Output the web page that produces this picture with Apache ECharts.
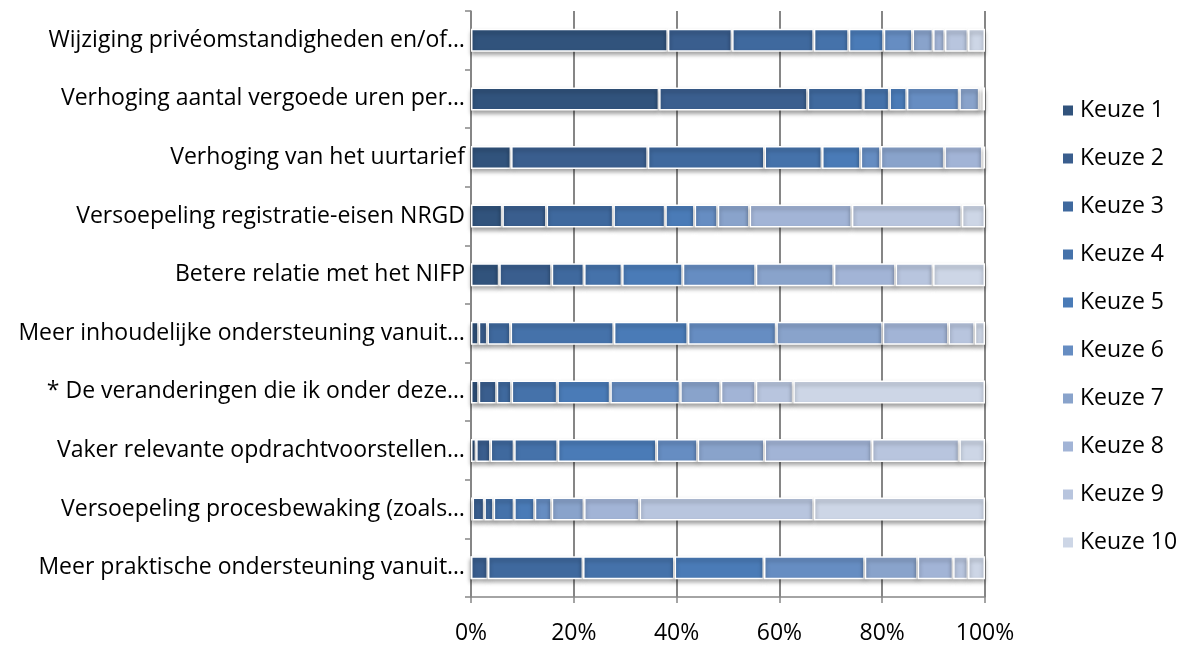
<!DOCTYPE html>
<html><head><meta charset="utf-8">
<script src="https://cdn.jsdelivr.net/npm/echarts@6/dist/echarts.min.js"></script>
<style>html,body{margin:0;padding:0;background:#fff}#c{width:1184px;height:646px}</style>
</head><body><div id="c"></div>
<script>
const categories = [
  "Wijziging privéomstandigheden en/of…",
  "Verhoging aantal vergoede uren per…",
  "Verhoging van het uurtarief",
  "Versoepeling registratie-eisen NRGD",
  "Betere relatie met het NIFP",
  "Meer inhoudelijke ondersteuning vanuit…",
  "* De veranderingen die ik onder deze…",
  "Vaker relevante opdrachtvoorstellen…",
  "Versoepeling procesbewaking (zoals…",
  "Meer praktische ondersteuning vanuit…"
];
const seriesNames = ["Keuze 1","Keuze 2","Keuze 3","Keuze 4","Keuze 5","Keuze 6","Keuze 7","Keuze 8","Keuze 9","Keuze 10"];
const keuze1  = [38.3, 36.6,  7.8,  6.1,  5.5,  1.5,  1.5,  1.0,  0.3,  0.0];
const keuze2  = [12.5, 28.9, 26.6,  8.6, 10.2,  1.7,  3.5,  2.8,  2.3,  3.3];
const keuze3  = [15.9, 10.8, 22.7, 13.0,  6.3,  4.5,  2.9,  4.6,  1.8, 18.5];
const keuze4  = [ 6.8,  5.1, 11.2, 10.1,  7.4, 20.1,  8.9,  8.5,  4.0, 17.8];
const keuze5  = [ 6.8,  3.4,  7.5,  5.7, 11.8, 14.4, 10.3, 19.2,  4.0, 17.4];
const keuze6  = [ 5.6, 10.2,  3.9,  4.5, 14.2, 17.2, 13.6,  8.0,  3.3, 19.6];
const keuze7  = [ 4.0,  3.9, 12.4,  6.2, 15.2, 20.7,  7.9, 13.0,  6.3, 10.3];
const keuze8  = [ 2.3,  0.4,  7.4, 19.9, 12.0, 12.8,  6.8, 20.9, 10.8,  6.9];
const keuze9  = [ 4.5,  0.3,  0.3, 21.4,  7.3,  5.1,  7.3, 17.0, 33.9,  2.9];
const keuze10 = [ 3.3,  0.4,  0.2,  4.5, 10.1,  2.0, 37.3,  5.0, 33.3,  3.3];
const xTicks = [0, 20, 40, 60, 80, 100];
const colors = ["#31537c","#3a5e8e","#3f699e","#4572aa","#4a7bb7","#668dc2","#89a3cb","#a2b4d6","#b8c5de","#cdd6e6"];

const allData = [keuze1,keuze2,keuze3,keuze4,keuze5,keuze6,keuze7,keuze8,keuze9,keuze10];
const font = "'Open Sans', sans-serif";
const chart = echarts.init(document.getElementById('c'), null, {renderer:'canvas'});
chart.setOption({
  animation:false,
  backgroundColor:'#fff',
  color: colors,
  grid:{left:471, right:199, top:11, bottom:49, containLabel:false},
  legend:{
    orient:'vertical', left:1056, top:94,
    itemWidth:12, itemHeight:12, itemGap:25,
    icon:'rect',
    textStyle:{fontSize:23, lineHeight:20, color:'#000', fontFamily:font, padding:[0,0,0,1]},
    data: seriesNames
  },
  xAxis:{
    type:'value', min:xTicks[0], max:xTicks[xTicks.length-1], interval:xTicks[1]-xTicks[0],
    axisLine:{show:true, lineStyle:{color:'#868686', width:1.5}},
    axisTick:{show:true, length:6, lineStyle:{color:'#868686', width:1.5}},
    splitLine:{show:true, lineStyle:{color:'#868686', width:2}},
    axisLabel:{formatter:'{value}%', fontSize:23, color:'#000', fontFamily:font, margin:25}
  },
  yAxis:{
    type:'category', data:categories, inverse:true,
    axisLine:{show:true, lineStyle:{color:'#868686', width:1.5}},
    axisTick:{show:true, length:6, alignWithLabel:false, lineStyle:{color:'#868686', width:1.5}},
    axisLabel:{fontSize:23, color:'#000', fontFamily:font, margin:6}
  },
  series: seriesNames.map((n,i)=>({
    name:n, type:'bar', stack:'total', data:allData[i], barWidth:23,
    itemStyle:{color:colors[i], borderColor:'#fff', borderWidth:1.5,
      shadowColor:'rgba(0,0,0,0.35)', shadowBlur:4, shadowOffsetY:3}
  }))
});
</script></body></html>
